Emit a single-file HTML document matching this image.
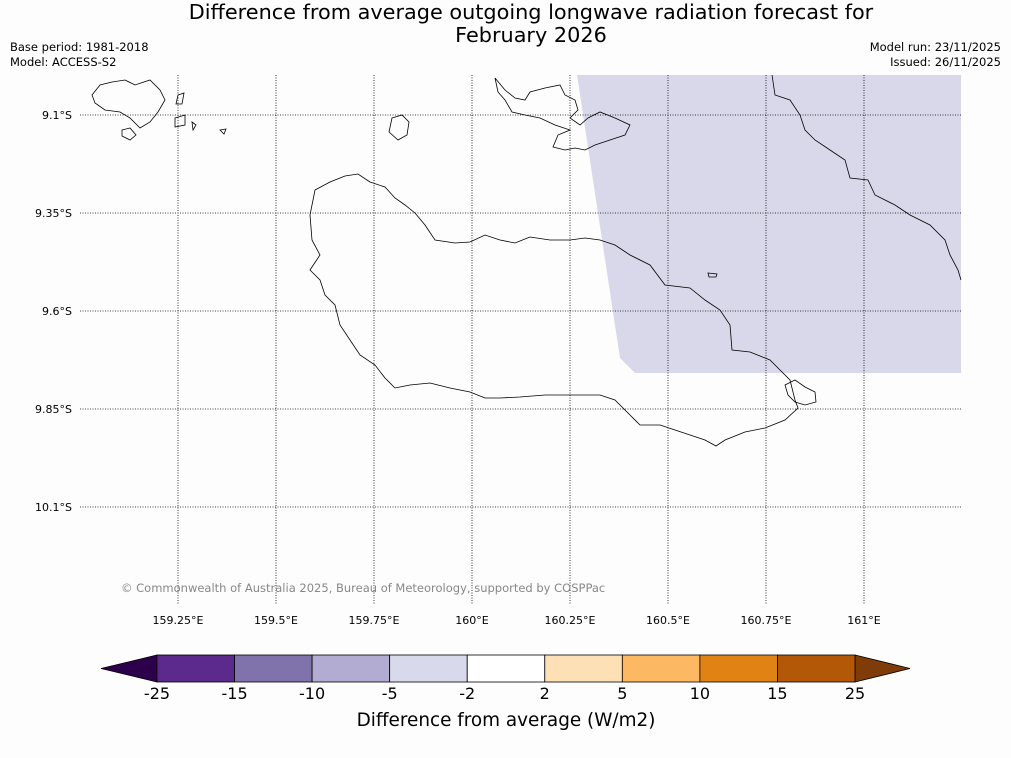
<!DOCTYPE html>
<html><head><meta charset="utf-8"><style>
body{margin:0;background:#fdfdfd;font-family:"DejaVu Sans",sans-serif;}
svg{display:block;font-family:"DejaVu Sans",sans-serif;}
</style></head><body>
<svg width="1011" height="758" viewBox="0 0 1011 758">
<rect width="1011" height="758" fill="#fdfdfd"/>
<text x="531" y="19" font-size="20.8" text-anchor="middle">Difference from average outgoing longwave radiation forecast for</text>
<text x="531" y="42" font-size="20.8" text-anchor="middle">February 2026</text>
<text x="10" y="51" font-size="11.5">Base period: 1981-2018</text>
<text x="10" y="66" font-size="11.5">Model: ACCESS-S2</text>
<text x="1001" y="51" font-size="11.5" text-anchor="end">Model run: 23/11/2025</text>
<text x="1001" y="66" font-size="11.5" text-anchor="end">Issued: 26/11/2025</text>
<g id="map">
<polygon points="577,75 961,75 961,373 635,373 620,358" fill="#d8d8ea"/>
<g id="grid" stroke="#000" stroke-width="0.8" stroke-dasharray="1,1.5"></g>
<g fill="none" stroke="#000" stroke-width="0.8">
<path d="M315,190 L330,182 345,176 358,174 370,182 385,187 395,198 405,205 415,213 425,225 435,240 455,243 470,242 485,235 500,240 515,243 530,237 550,240 570,240 585,238 600,240 615,245 630,255 650,265 665,285 690,288 705,300 720,310 730,325 732,350 750,352 770,360 780,370 790,380 795,400 798,408 785,420 765,428 745,432 725,440 716,446 705,440 690,435 675,430 660,425 640,425 630,415 615,400 600,395 575,395 545,395 520,397 500,398 485,398 470,392 450,388 430,383 410,385 395,388 385,378 375,365 360,355 350,340 340,325 335,305 325,295 320,280 310,270 320,255 312,240 310,215 Z"/>
<path d="M392,118 L402,115 409,122 407,135 398,140 389,132 Z"/>
<path d="M495,78 L505,90 515,98 525,100 530,92 545,88 560,85 565,95 575,100 578,110 570,118 580,125 588,118 600,112 615,118 630,125 625,135 610,140 595,145 585,150 575,148 565,150 553,147 558,135 570,130 555,125 540,118 525,115 512,112 505,100 498,92 Z"/>
<path d="M772,75 L775,95 790,100 800,115 805,130 815,140 830,150 845,160 850,178 868,180 875,195 895,205 910,215 930,225 945,240 950,255 958,270 961,280"/>
<path d="M708,273 L717,274 716,277 709,277 Z"/>
<path d="M785,385 L795,380 805,387 815,392 816,402 805,405 795,402 788,395 Z"/>
<path d="M92,95 L100,85 112,82 125,80 135,85 150,80 160,90 165,100 158,112 150,122 140,128 130,118 120,112 105,110 95,103 Z M122,130 L130,128 136,135 130,140 122,136 Z M175,118 L185,115 185,125 175,127 Z M192,122 L196,125 193,130 Z M220,130 L226,129 224,134 Z M178,95 L184,93 182,104 176,104 Z"/>
</g>
<text x="121" y="592" font-size="11.5" fill="#888">© Commonwealth of Australia 2025, Bureau of Meteorology, supported by COSPPac</text>
</g>
<g id="cbar"></g>
<text x="506" y="726" font-size="18.4" text-anchor="middle">Difference from average (W/m2)</text>
</svg>
<script>
const latTicks=[9.1,9.35,9.6,9.85,10.1];
const lonTicks=[159.25,159.5,159.75,160,160.25,160.5,160.75,161];
const cbarLabels=["-25","-15","-10","-5","-2","2","5","10","15","25"];
const cbarColors=["#5b2a8c","#8073ac","#b2abd2","#d8daeb","#ffffff","#fee0b6","#fdb863","#e08214","#b35806"];
const ns="http://www.w3.org/2000/svg";
const xLon=l=>472+(l-160)*392;
const yLat=l=>115+(l-9.1)*392;
function mk(t,a,p){const e=document.createElementNS(ns,t);for(const k in a)e.setAttribute(k,a[k]);p.appendChild(e);return e;}
const grid=document.getElementById('grid'),map=document.getElementById('map');
latTicks.forEach(v=>{const y=yLat(v);
const l=mk('line',{x1:80,x2:961,y1:y,y2:y},grid);


const t=mk('text',{x:72,y:y+4,'font-size':11,'text-anchor':'end'},map);t.textContent=v+'°S';

});
lonTicks.forEach(v=>{const x=xLon(v);
const l=mk('line',{x1:x,x2:x,y1:75,y2:605},grid);


const t=mk('text',{x:x,y:624,'font-size':11,'text-anchor':'middle'},map);t.textContent=v+'°E';

});
const cb=document.getElementById('cbar');const x0=157,x1=855,y0=655,h=27;const w=(x1-x0)/cbarColors.length;
const lt=mk('polygon',{points:`${x0},${y0} ${x0},${y0+h} 101,${y0+h/2}`,fill:'#2d004b',stroke:'#000','stroke-width':0.8},cb);


const rt=mk('polygon',{points:`${x1},${y0} ${x1},${y0+h} 910,${y0+h/2}`,fill:'#7f3b08',stroke:'#000','stroke-width':0.8},cb);


cbarColors.forEach((c,i)=>{const r=mk('rect',{x:x0+i*w,y:y0,width:w,height:h,fill:c,stroke:'#000','stroke-width':0.8},cb);

});
cbarLabels.forEach((s,i)=>{const t=mk('text',{x:x0+i*w,y:699,'font-size':16,'text-anchor':'middle'},cb);t.textContent=s;

});
</script>
</body></html>
